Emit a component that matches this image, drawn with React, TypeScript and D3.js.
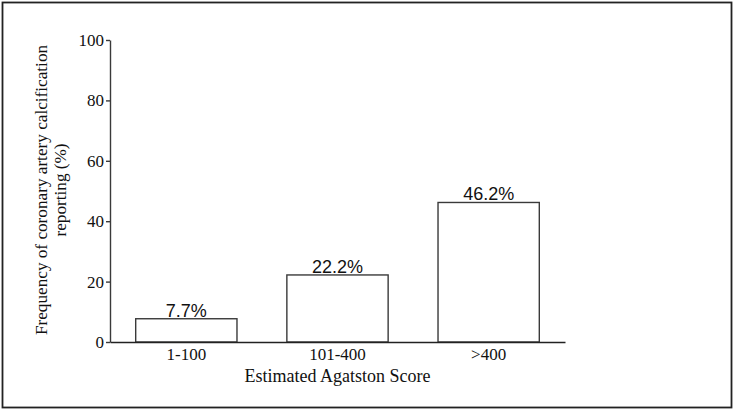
import React, { useEffect, useRef } from 'react';
import * as d3 from 'd3';

const categories = ['1-100', '101-400', '>400'];
const frequencies = [7.7, 22.2, 46.2];
const valueLabels = ['7.7%', '22.2%', '46.2%'];
const yTicks = [0, 20, 40, 60, 80, 100];

export default function App() {
  const ref = useRef<SVGSVGElement | null>(null);

  useEffect(() => {
    if (!ref.current) return;
    const svg = d3.select(ref.current);
    svg.selectAll('*').remove();

    const width = 734;
    const height = 410;
    const serif = "'Liberation Serif', 'Times New Roman', serif";
    const sans = "'Liberation Sans', Arial, sans-serif";

    svg.append('rect')
      .attr('x', 2.5).attr('y', 2.5)
      .attr('width', width - 5).attr('height', height - 5)
      .attr('fill', 'white')
      .attr('stroke', '#222')
      .attr('stroke-width', 1.8);

    const x = d3.scaleBand()
      .domain(categories)
      .range([110, 565])
      .paddingInner(0.33)
      .paddingOuter(0.17);

    const y = d3.scaleLinear().domain([0, 100]).range([342, 40]);

    // bars
    categories.forEach((c, i) => {
      const bx = x(c)!;
      svg.append('rect')
        .attr('x', bx)
        .attr('y', y(frequencies[i]))
        .attr('width', x.bandwidth())
        .attr('height', y(0) - y(frequencies[i]))
        .attr('fill', 'white')
        .attr('stroke', '#3a3a3a')
        .attr('stroke-width', 1.4);

      svg.append('text')
        .attr('x', bx + x.bandwidth() / 2)
        .attr('y', y(frequencies[i]) - 2)
        .attr('text-anchor', 'middle')
        .attr('font-family', sans)
        .attr('font-size', '18px')
        .attr('fill', '#111')
        .text(valueLabels[i]);
    });

    // y axis
    const yAxis = d3.axisLeft(y).tickValues(yTicks).tickSize(4).tickSizeOuter(0).tickPadding(2);
    svg.append('g')
      .attr('transform', 'translate(110,0)')
      .call(yAxis)
      .call(g => g.select('.domain').attr('stroke', '#3a3a3a').attr('stroke-width', 1.4))
      .call(g => g.selectAll('.tick line').attr('stroke', '#3a3a3a').attr('stroke-width', 1.4))
      .call(g => g.selectAll('text')
        .attr('fill', '#111')
        .attr('font-size', '17px')
        .attr('font-family', serif));

    // x axis
    const xAxis = d3.axisBottom(x).tickSize(0).tickPadding(6);
    svg.append('g')
      .attr('transform', `translate(0,${y(0)})`)
      .call(xAxis)
      .call(g => g.select('.domain').attr('stroke', '#222').attr('stroke-width', 1.4))
      .call(g => g.selectAll('text')
        .attr('fill', '#111')
        .attr('font-size', '17px')
        .attr('font-family', serif));

    svg.append('text')
      .attr('x', 337.5)
      .attr('y', 382)
      .attr('text-anchor', 'middle')
      .attr('font-family', serif)
      .attr('font-size', '18px')
      .attr('fill', '#111')
      .text('Estimated Agatston Score');

    const yTitle = svg.append('text')
      .attr('transform', 'translate(47,190) rotate(-90)')
      .attr('text-anchor', 'middle')
      .attr('font-family', serif)
      .attr('font-size', '17.2px')
      .attr('fill', '#111');
    yTitle.append('tspan').attr('x', 0).attr('dy', 0)
      .text('Frequency of coronary artery calcification');
    yTitle.append('tspan').attr('x', 0).attr('dy', 19)
      .text('reporting (%)');
  }, []);

  return (
    <svg ref={ref} width={734} height={410}
      style={{ position: 'absolute', left: 0, top: 0, display: 'block' }} />
  );
}
